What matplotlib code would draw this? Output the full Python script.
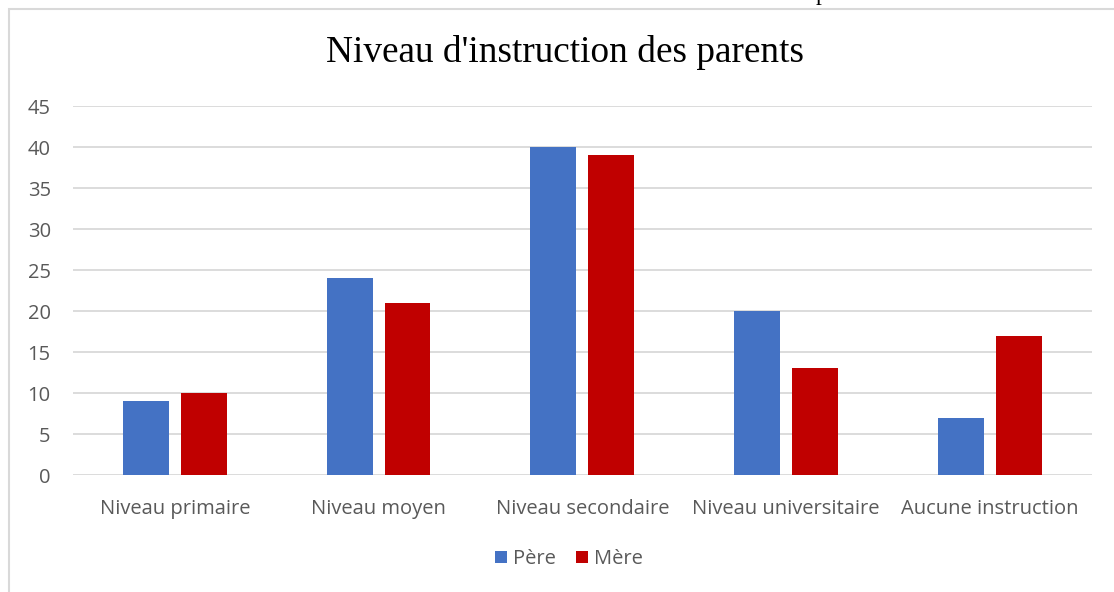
import numpy as np
import matplotlib.pyplot as plt
from matplotlib.patches import Rectangle

categories = ["Niveau primaire", "Niveau moyen", "Niveau secondaire",
              "Niveau universitaire", "Aucune instruction"]
pere = [9, 24, 40, 20, 7]
mere = [10, 21, 39, 13, 17]
series_names = ["Père", "Mère"]

plt.rcParams['font.family'] = ['Open Sans', 'DejaVu Sans']

fig = plt.figure(figsize=(11.14, 5.92), dpi=100)
ax = fig.add_axes([0.0655, 0.1976, 0.9145, 0.6233])

# cadre du graphique (coupé à droite et en bas)
fig.patches.append(Rectangle((9 / 1114, -0.1), 1.2, 1 - 9 / 592 + 0.1,
                             transform=fig.transFigure, fill=False,
                             edgecolor='#d9d9d9', linewidth=1.5, zorder=0))
# bout de texte du document au-dessus
fig.text(816 / 1114, 1.0, 'p', family='Liberation Serif', fontsize=17,
         ha='left', va='baseline', color='black')

x = np.arange(len(categories))
w = 0.225
ax.bar(x - 0.142, pere, width=w, color='#4472C4', label=series_names[0], zorder=3)
ax.bar(x + 0.142, mere, width=w, color='#C00000', label=series_names[1], zorder=3)

ax.set_xlim(-0.5, len(categories) - 0.5)
ax.set_ylim(0, 45)
ax.set_yticks(range(0, 46, 5))
ax.grid(axis='y', color='#d9d9d9', linewidth=1.3, zorder=0)
ax.set_xticks(x)
ax.set_xticklabels(categories)
for s in ax.spines.values():
    s.set_visible(False)
ax.tick_params(length=0, labelsize=14.5, labelcolor='#595959')
ax.tick_params(axis='x', pad=17)
ax.tick_params(axis='y', pad=16)

fig.suptitle("Niveau d'instruction des parents", family='Liberation Serif',
             fontsize=26.8, x=565 / 1114, y=1 - 52 / 592, va='center')

fig.legend(loc='center', bbox_to_anchor=(569 / 1114, 1 - 559 / 592), ncol=2,
           frameon=False, fontsize=14.5, labelcolor='#595959',
           handlelength=0.6, handleheight=0.6, handletextpad=0.3,
           columnspacing=1.0)

fig.savefig('out.png', dpi=100)
